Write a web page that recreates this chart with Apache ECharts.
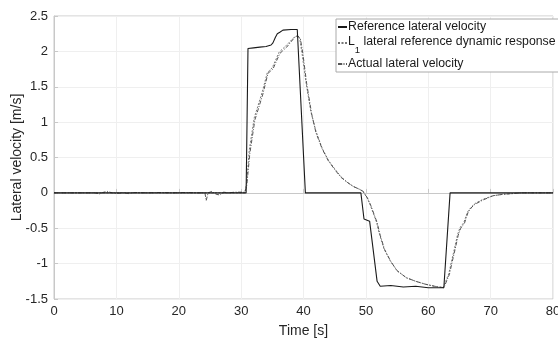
<!DOCTYPE html>
<html><head><meta charset="utf-8">
<script src="https://cdn.jsdelivr.net/npm/echarts@6/dist/echarts.min.js"></script>
<style>html,body{margin:0;padding:0;background:#fff}#c{width:558px;height:339px}</style>
</head><body><div id="c"></div>
<script>
// [time s, lateral velocity m/s]
var referencePoints = [[0,0],[30.8,0],[31.1,2.04],[32,2.05],[33,2.06],[34,2.07],[34.8,2.09],[35.1,2.12],[35.5,2.2],[35.8,2.25],[36.2,2.27],[36.7,2.3],[38,2.31],[39,2.31],[39.3,2.3],[40.3,0],[49.2,0],[49.7,-0.37],[50.6,-0.40],[51.8,-1.25],[52.3,-1.32],[54,-1.31],[56,-1.33],[58,-1.32],[60,-1.34],[62,-1.34],[62.5,-1.34],[63.5,0],[80,0]];
var l1Points = [[0,0],[30.6,0],[30.9,0.15],[31.3,0.6],[32.1,1.06],[32.6,1.2],[33.4,1.43],[34.2,1.7],[35,1.77],[36.1,1.99],[37.2,2.08],[38.5,2.2],[39,2.22],[39.4,2.18],[39.8,1.95],[40.4,1.56],[41.2,1.14],[42,0.87],[43,0.63],[44,0.46],[45,0.34],[46,0.23],[47,0.15],[48,0.09],[49,0.05],[49.5,0.02],[50.2,-0.07],[50.7,-0.17],[51.2,-0.29],[51.7,-0.41],[52.2,-0.59],[52.9,-0.79],[53.9,-0.96],[55,-1.1],[56.5,-1.2],[58,-1.25],[59.5,-1.29],[61,-1.32],[62.4,-1.34],[62.7,-1.33],[63.3,-1.14],[63.7,-0.98],[64.2,-0.79],[64.7,-0.59],[65.1,-0.49],[65.7,-0.42],[66.3,-0.27],[66.9,-0.2],[67.5,-0.15],[68.8,-0.09],[70.4,-0.04],[72,-0.02],[75,0],[80,0]];
var actualPoints = [[0,0],[6.5,0],[7.3,-0.015],[8,0.01],[8.6,0.02],[9.3,0],[10,-0.01],[11,0],[12,-0.01],[13,0.005],[15,0],[17,0.005],[19,0],[21,0.005],[23,0],[24.2,0],[24.4,-0.11],[24.7,0],[25.3,0.02],[26,-0.02],[26.6,-0.03],[27.2,0.01],[28,0],[29,0.01],[30.6,0.01],[30.9,0.1],[31.4,0.56],[32.2,1.03],[32.7,1.17],[33.5,1.4],[34.3,1.69],[35.1,1.75],[36.2,1.97],[37.3,2.06],[38.6,2.2],[39.1,2.22],[39.5,2.18],[39.9,1.97],[40.5,1.55],[41.3,1.12],[42,0.85],[43,0.62],[44,0.45],[45,0.33],[46,0.22],[47,0.15],[48,0.09],[49,0.05],[49.6,0.02],[50.3,-0.08],[50.8,-0.18],[51.3,-0.3],[51.8,-0.42],[52.3,-0.6],[53,-0.8],[54,-0.97],[55,-1.1],[56.5,-1.2],[58,-1.25],[59.5,-1.29],[61,-1.32],[62.5,-1.34],[62.8,-1.33],[63.4,-1.15],[63.8,-0.99],[64.3,-0.8],[64.8,-0.6],[65.2,-0.5],[65.8,-0.43],[66.4,-0.27],[67,-0.2],[67.5,-0.16],[68.8,-0.1],[70.4,-0.04],[72,-0.02],[75,0],[80,0]];
var seriesNames = ['Reference lateral velocity','L1 lateral reference dynamic response','Actual lateral velocity'];

var font = 'Liberation Sans, Arial, Helvetica, sans-serif';
var chart = echarts.init(document.getElementById('c'));
chart.setOption({
  animation:false,
  backgroundColor:'#fff',
  grid:{left:54,right:5,top:16,bottom:40,show:true,borderColor:'#c8c8c8',borderWidth:1,outerBoundsMode:'none',containLabel:false},
  xAxis:{type:'value',min:0,max:80,interval:10,
    name:'Time [s]',nameLocation:'middle',nameGap:25,nameMoveOverlap:false,
    nameTextStyle:{fontFamily:font,fontSize:14,color:'#262626'},
    axisLine:{lineStyle:{color:'#c8c8c8'}},
    axisTick:{inside:true,length:4,lineStyle:{color:'#c8c8c8'}},
    axisLabel:{fontFamily:font,fontSize:13,color:'#262626',margin:6,hideOverlap:false},
    splitLine:{lineStyle:{color:'#efefef'}}},
  yAxis:{type:'value',min:-1.5,max:2.5,interval:0.5,
    name:'Lateral velocity [m/s]',nameLocation:'middle',nameGap:30,nameMoveOverlap:false,
    nameTextStyle:{fontFamily:font,fontSize:14,color:'#262626'},
    axisLine:{lineStyle:{color:'#c8c8c8'}},
    axisTick:{inside:true,length:4,lineStyle:{color:'#c8c8c8'}},
    axisLabel:{fontFamily:font,fontSize:13,color:'#262626',margin:6},
    splitLine:{lineStyle:{color:'#efefef'}}},
  legend:{orient:'vertical',left:336,top:19,itemGap:2,itemWidth:9,itemHeight:1,
    backgroundColor:'#fff',borderColor:'#aaa',borderWidth:1,borderRadius:0,padding:[1,3,1,1],
    data:seriesNames,
    formatter:function(n){ if(n.indexOf('L1 ')===0) return '{n|L}{s|1}{n|'+n.slice(2)+'}'; return n; },
    textStyle:{fontFamily:font,fontSize:12.3,color:'#1a1a1a',padding:[0,0,0,-4],lineHeight:14,
      rich:{n:{fontFamily:font,fontSize:12.3,color:'#1a1a1a',lineHeight:14,verticalAlign:'top'},
            s:{fontFamily:font,fontSize:9.5,color:'#1a1a1a',lineHeight:8,verticalAlign:'top',padding:[9,0,0,0]}}}},
  series:[
    {name:seriesNames[0],type:'line',data:referencePoints,symbol:'none',color:'#1a1a1a',
      lineStyle:{color:'#1a1a1a',width:1.1},z:3},
    {name:seriesNames[1],type:'line',data:l1Points,symbol:'none',color:'#777',
      lineStyle:{color:'#777',width:1,type:[2,1.5]},z:2},
    {name:seriesNames[2],type:'line',data:actualPoints,symbol:'none',color:'#555',
      lineStyle:{color:'#555',width:1,type:[4,1.5,1,1.5]},z:2}
  ]
});
</script></body></html>
